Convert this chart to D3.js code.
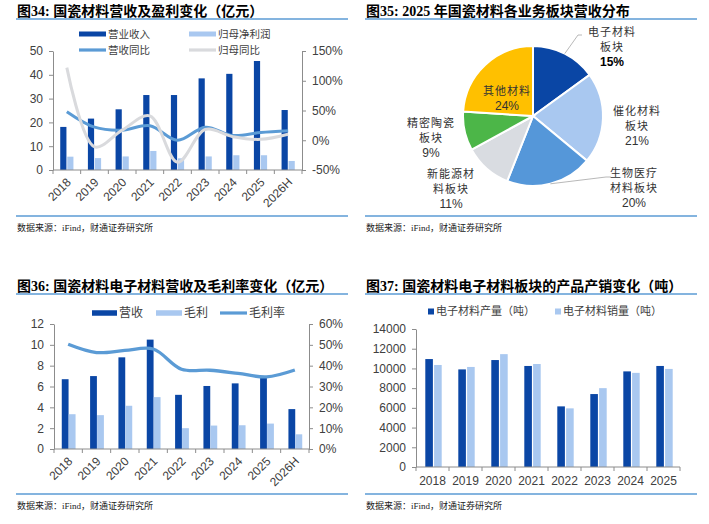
<!DOCTYPE html>
<html>
<head>
<meta charset="utf-8">
<title>国瓷材料</title>
<script src="https://cdnjs.cloudflare.com/ajax/libs/d3/7.8.5/d3.min.js"></script>
<style>
  body { margin: 0; background: #fff; }
</style>
</head>
<body>
<script>
// ---- data ----
var years = ["2018", "2019", "2020", "2021", "2022", "2023", "2024", "2025", "2026H"];
var revenue = [18.1, 21.6, 25.5, 31.5, 31.5, 38.5, 40.4, 45.8, 25.2];      // 营业收入 (亿元)
var netProfit = [5.6, 5.0, 5.7, 8.0, 4.9, 5.7, 6.2, 6.2, 3.8];             // 归母净利润
var revenueYoy = [48, 22, 17, 24.5, 0, 22, 8, 13, 16];                     // 营收同比 %
var profitYoy = [122, -11, 17, 41, -37, 18, 6, 1.5, 10];                   // 归母同比 %

var segNames = ["电子材料板块", "催化材料板块", "生物医疗材料板块", "新能源材料板块", "精密陶瓷板块", "其他材料"];
var segShares = [15, 21, 20, 11, 9, 24];

var ecRevenue = [6.7, 7.0, 8.8, 10.5, 5.2, 6.05, 6.3, 6.9, 3.83];          // 营收
var ecGross = [3.34, 3.25, 4.15, 4.98, 2.0, 2.25, 2.28, 2.44, 1.41];       // 毛利
var ecMargin = [50.3, 46.3, 47.3, 48, 38.3, 37.8, 36.3, 34.6, 37.9];       // 毛利率 %

var prodYears = ["2018", "2019", "2020", "2021", "2022", "2023", "2024", "2025"];
var ecOutput = [10950, 9900, 10850, 10250, 6150, 7400, 9700, 10250];       // 产量 (吨)
var ecSales = [10350, 10150, 11450, 10450, 5950, 8000, 9550, 9950];        // 销量 (吨)

// ---- style ----
var C = {
  dark: "#0a46a5", light: "#a9c8f0", mid: "#5b9bd5", gray: "#d9dadd",
  axis: "#8c8c8c", text: "#404040", rule: "#5b9bd5",
  pieMid: "#5597d9", pieGray: "#d9dce1", green: "#4cb648", yellow: "#ffc000"
};
var sansFont = "'Liberation Sans','Noto Sans CJK SC',sans-serif";
var cjkFont = "'Noto Sans CJK SC',sans-serif";
var titleFont = "'Liberation Serif','Noto Sans CJK SC',serif";

var svg = d3.select("body").append("svg")
  .attr("width", 709)
  .attr("height", 524)
  .style("font-family", sansFont);

function frame(x0, x1, yTop, yBottom, title) {
  svg.append("text")
    .attr("x", x0 + 1).attr("y", yTop - 3)
    .style("font-family", titleFont).style("font-weight", "bold").style("font-size", "14px")
    .attr("fill", "#000")
    .text(title);
  [yTop, yBottom].forEach(function (y) {
    svg.append("line")
      .attr("x1", x0).attr("x2", x1).attr("y1", y).attr("y2", y)
      .attr("stroke", C.rule).attr("stroke-width", 1.5);
  });
  svg.append("text")
    .attr("x", x0 + 1).attr("y", yBottom + 15)
    .style("font-family", titleFont).style("font-size", "9px")
    .attr("fill", "#222")
    .text("数据来源：iFind，财通证券研究所");
}

function styleAxis(g) {
  g.select(".domain").attr("stroke", C.axis);
  g.selectAll(".tick line").attr("stroke", C.axis);
  g.selectAll(".tick text").attr("fill", C.text).style("font-size", "12px").style("font-family", sansFont);
}

function leftAxis(scale, x, vals, fmt) {
  svg.append("g").attr("transform", "translate(" + x + ",0)")
    .call(d3.axisLeft(scale).tickValues(vals).tickSize(4).tickSizeOuter(0).tickPadding(6).tickFormat(fmt))
    .call(styleAxis);
}

function rightAxis(scale, x, vals, fmt) {
  svg.append("g").attr("transform", "translate(" + x + ",0)")
    .call(d3.axisRight(scale).tickValues(vals).tickSize(4).tickSizeOuter(0).tickPadding(6).tickFormat(fmt))
    .call(styleAxis);
}

function bandAxis(x, y0, rotate) {
  var g = svg.append("g");
  var r = x.range();
  g.append("line").attr("x1", r[0]).attr("x2", r[1]).attr("y1", y0).attr("y2", y0).attr("stroke", C.axis);
  d3.range(x.domain().length + 1).forEach(function (i) {
    var xx = r[0] + i * x.step();
    g.append("line").attr("x1", xx).attr("x2", xx).attr("y1", y0).attr("y2", y0 + 4).attr("stroke", C.axis);
  });
  x.domain().forEach(function (d) {
    var cx = x(d) + x.bandwidth() / 2;
    var t = g.append("text").attr("fill", C.text).style("font-size", "12px").text(d);
    if (rotate) {
      t.attr("text-anchor", "end").attr("dy", "0.35em")
        .attr("transform", "translate(" + (cx + 2) + "," + (y0 + 10) + ") rotate(-45)");
    } else {
      t.attr("text-anchor", "middle").attr("x", cx).attr("y", y0 + 18);
    }
  });
}

function legendRect(x, y, w, h, color, label, size) {
  svg.append("rect").attr("x", x).attr("y", y - h / 2).attr("width", w).attr("height", h).attr("fill", color);
  svg.append("text").attr("x", x + w + 2).attr("y", y).attr("dy", "0.36em")
    .style("font-family", cjkFont).style("font-size", size + "px").attr("fill", C.text).text(label);
}

function legendLine(x, y, w, color, label, size) {
  svg.append("line").attr("x1", x).attr("x2", x + w).attr("y1", y).attr("y2", y)
    .attr("stroke", color).attr("stroke-width", 3.2);
  svg.append("text").attr("x", x + w + 2).attr("y", y).attr("dy", "0.36em")
    .style("font-family", cjkFont).style("font-size", size + "px").attr("fill", C.text).text(label);
}

var smooth = d3.curveCatmullRom.alpha(0.5);

// ================= 图34 =================
frame(16, 348, 19, 216, "图34: 国瓷材料营收及盈利变化（亿元）");

var x1 = d3.scaleBand().domain(years).range([53, 302]).padding(0);
var y1 = d3.scaleLinear().domain([0, 50]).range([170, 51]);
var y1r = d3.scaleLinear().domain([-50, 150]).range([170, 51]);

leftAxis(y1, 53, [0, 10, 20, 30, 40, 50], d3.format("d"));
rightAxis(y1r, 302, [-50, 0, 50, 100, 150], function (d) { return d + "%"; });

svg.append("g").selectAll("rect").data(revenue).join("rect")
  .attr("x", function (d, i) { return x1(years[i]) + x1.bandwidth() / 2 - 6.6; })
  .attr("width", 6.2)
  .attr("y", function (d) { return y1(d); })
  .attr("height", function (d) { return y1(0) - y1(d); })
  .attr("fill", C.dark);

svg.append("g").selectAll("rect").data(netProfit).join("rect")
  .attr("x", function (d, i) { return x1(years[i]) + x1.bandwidth() / 2 + 0.4; })
  .attr("width", 6.2)
  .attr("y", function (d) { return y1(d); })
  .attr("height", function (d) { return y1(0) - y1(d); })
  .attr("fill", C.light);

bandAxis(x1, 170, true);

var line1 = function (vals) {
  return d3.line()
    .x(function (d, i) { return x1(years[i]) + x1.bandwidth() / 2; })
    .y(function (d) { return y1r(d); })
    .curve(smooth)(vals);
};
svg.append("path").attr("d", line1(revenueYoy)).attr("fill", "none").attr("stroke", C.mid).attr("stroke-width", 3);
svg.append("path").attr("d", line1(profitYoy)).attr("fill", "none").attr("stroke", C.gray).attr("stroke-width", 3);

legendRect(79, 34, 27, 5, C.dark, "营业收入", 10.5);
legendRect(189, 34, 27, 5, C.light, "归母净利润", 10.5);
legendLine(79, 50, 27, C.mid, "营收同比", 10.5);
legendLine(189, 50, 27, C.gray, "归母同比", 10.5);

// ================= 图35 =================
frame(365, 697, 19, 216, "图35: 2025 年国瓷材料各业务板块营收分布");

var pieColors = [C.dark, C.light, C.pieMid, C.pieGray, C.green, C.yellow];
var pcx = 533, pcy = 116, pr = 70;
var arcs = d3.pie().sort(null).value(function (d) { return d; })(segShares);
var arc = d3.arc().innerRadius(0).outerRadius(pr);

var pg = svg.append("g").attr("transform", "translate(" + pcx + "," + pcy + ")");
pg.selectAll("path").data(arcs).join("path")
  .attr("d", arc)
  .attr("fill", function (d, i) { return pieColors[i]; })
  .attr("stroke", "#fff").attr("stroke-width", 2);

// label layout (offsets from pie centre) and text lines
var labelLines = [["电子材料", "板块"], ["催化材料", "板块"], ["生物医疗", "材料板块"], ["新能源材", "料板块"], ["精密陶瓷", "板块"], ["其他材料"]];
var labelPos = [[79, -84], [104, -5], [101, 57], [-82, 58], [-102, 7], [-26, -25]];
var leaderOuter = [[45, -81, 49], null, [73, 61, 78], null, null, null];

arcs.forEach(function (a, i) {
  var lines = labelLines[i].concat([segShares[i] + "%"]);
  var p = labelPos[i];
  lines.forEach(function (s, k) {
    var isPct = k === lines.length - 1;
    pg.append("text")
      .attr("x", p[0]).attr("y", p[1] + k * 15).attr("dy", "0.36em")
      .attr("text-anchor", "middle")
      .style("font-family", isPct ? sansFont : cjkFont)
      .style("font-size", isPct ? "12px" : "11px")
      .style("letter-spacing", isPct ? "0" : "1px")
      .style("font-weight", (isPct && i === 0) ? "bold" : "normal")
      .attr("fill", i === 0 && isPct ? "#000" : "#333")
      .text(s);
  });
  if (leaderOuter[i]) {
    var mid = (a.startAngle + a.endAngle) / 2;
    var sx = Math.sin(mid) * pr, sy = -Math.cos(mid) * pr;
    var q = leaderOuter[i];
    pg.append("polyline")
      .attr("points", [[sx, sy], [q[0], q[1]], [q[2], q[1]]].map(function (c) { return c.join(","); }).join(" "))
      .attr("fill", "none").attr("stroke", "#a6a6a6").attr("stroke-width", 0.8);
  }
});

// ================= 图36 =================
frame(16, 348, 294, 494, "图36: 国瓷材料电子材料营收及毛利率变化（亿元）");

var x3 = d3.scaleBand().domain(years).range([54, 309]).padding(0);
var y3 = d3.scaleLinear().domain([0, 12]).range([449, 324]);
var y3r = d3.scaleLinear().domain([0, 60]).range([449, 324]);

leftAxis(y3, 54, [0, 2, 4, 6, 8, 10, 12], d3.format("d"));
rightAxis(y3r, 309, [0, 10, 20, 30, 40, 50, 60], function (d) { return d + "%"; });

svg.append("g").selectAll("rect").data(ecRevenue).join("rect")
  .attr("x", function (d, i) { return x3(years[i]) + x3.bandwidth() / 2 - 6.4; })
  .attr("width", 6.8)
  .attr("y", function (d) { return y3(d); })
  .attr("height", function (d) { return y3(0) - y3(d); })
  .attr("fill", C.dark);

svg.append("g").selectAll("rect").data(ecGross).join("rect")
  .attr("x", function (d, i) { return x3(years[i]) + x3.bandwidth() / 2 + 0.6; })
  .attr("width", 6.8)
  .attr("y", function (d) { return y3(d); })
  .attr("height", function (d) { return y3(0) - y3(d); })
  .attr("fill", C.light);

bandAxis(x3, 449, true);

svg.append("path")
  .attr("d", d3.line()
    .x(function (d, i) { return x3(years[i]) + x3.bandwidth() / 2; })
    .y(function (d) { return y3r(d); })
    .curve(smooth)(ecMargin))
  .attr("fill", "none").attr("stroke", C.mid).attr("stroke-width", 3.3);

legendRect(92, 313, 25, 5.5, C.dark, "营收", 12);
legendRect(156, 313, 26, 5.5, C.light, "毛利", 12);
legendLine(220, 313, 27, C.mid, "毛利率", 12);

// ================= 图37 =================
frame(365, 697, 294, 494, "图37: 国瓷材料电子材料板块的产品产销变化（吨）");

var x4 = d3.scaleBand().domain(prodYears).range([416, 680]).padding(0);
var y4 = d3.scaleLinear().domain([0, 14000]).range([467, 329]);

leftAxis(y4, 416, d3.range(0, 14001, 2000), d3.format("d"));

svg.append("g").selectAll("rect").data(ecOutput).join("rect")
  .attr("x", function (d, i) { return x4(prodYears[i]) + x4.bandwidth() / 2 - 7.2; })
  .attr("width", 7.6)
  .attr("y", function (d) { return y4(d); })
  .attr("height", function (d) { return y4(0) - y4(d); })
  .attr("fill", C.dark);

svg.append("g").selectAll("rect").data(ecSales).join("rect")
  .attr("x", function (d, i) { return x4(prodYears[i]) + x4.bandwidth() / 2 + 1.6; })
  .attr("width", 7.6)
  .attr("y", function (d) { return y4(d); })
  .attr("height", function (d) { return y4(0) - y4(d); })
  .attr("fill", C.light);

bandAxis(x4, 467, false);

legendRect(428, 311.5, 6, 6, C.dark, "电子材料产量（吨）", 11);
legendRect(555, 311.5, 6, 6, C.light, "电子材料销量（吨）", 11);
</script>
</body>
</html>
